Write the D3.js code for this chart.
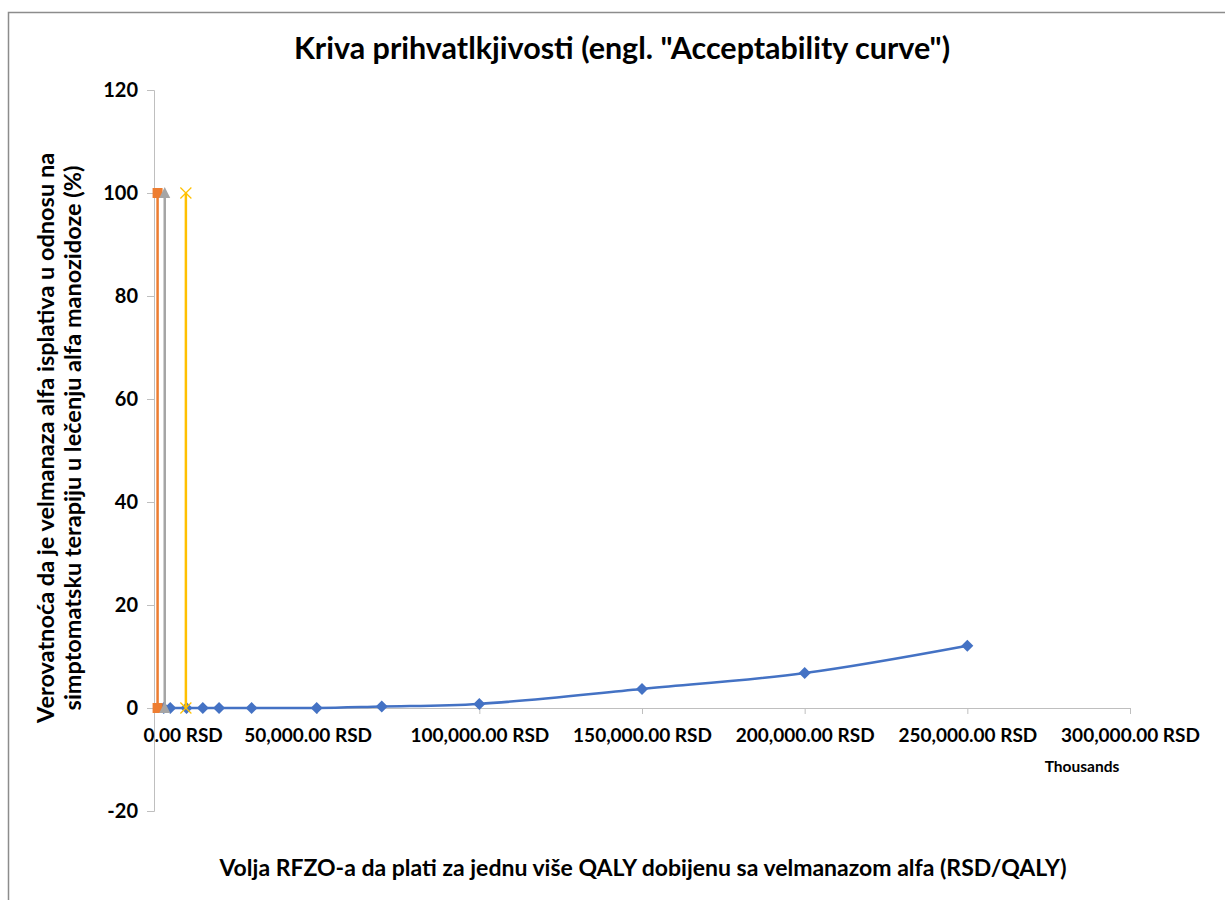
<!DOCTYPE html>
<html>
<head>
<meta charset="utf-8">
<script src="https://cdn.jsdelivr.net/npm/d3@7"></script>
<style>
    body { margin: 0; background: #fff; }
    svg text { font-family: Lato, "Open Sans", sans-serif; font-weight: bold; fill: #000; }
</style>
</head>
<body>
<div id="chart"></div>
<script>
// willingness to pay, in thousands RSD per QALY
const wtp = [3000, 5000, 10000, 15000, 20000, 30000, 50000, 70000, 100000, 150000, 200000, 250000];
const probBlue = [0, 0, 0, 0, 0, 0, 0, 0.3, 0.8, 3.7, 6.8, 12.1];
// the three near-vertical series close to the origin
const orangeX = [1100, 1100];
const orangeY = [0, 100];
const grayX = [3300, 3300];
const grayY = [0, 100];
const yellowX = [9800, 9800];
const yellowY = [0, 100];
const xTicks = [0, 50000, 100000, 150000, 200000, 250000, 300000];
const yTicks = [-20, 0, 20, 40, 60, 80, 100, 120];

const title = 'Kriva prihvatlkjivosti (engl. "Acceptability curve")';
const xTitle = 'Volja RFZO-a da plati za jednu više QALY dobijenu sa velmanazom alfa (RSD/QALY)';
const yTitle = ['Verovatnoća da je velmanaza alfa isplativa u odnosu na',
    'simptomatsku terapiju u lečenju alfa manozidoze (%)'];

let width = 1225,
    height = 900,
    plot = { left: 154, right: 1130, top: 90, bottom: 811 },
    axisColor = '#bfbfbf';

const svg = d3.select('#chart').append('svg')
    .attr('width', width)
    .attr('height', height);

// chart area frame (runs off the page on the right and bottom)
svg.append('rect')
    .attr('x', 8.5).attr('y', 12.5)
    .attr('width', width + 20).attr('height', height + 20)
    .attr('fill', '#fff')
    .attr('stroke', '#8c8c8c')
    .attr('stroke-width', 1.5);

const x = d3.scaleLinear().domain([0, 300000]).range([plot.left, plot.right]);
const y = d3.scaleLinear().domain([-20, 120]).range([plot.bottom, plot.top]);

// y axis
const yAxis = d3.axisLeft(y)
    .tickValues(yTicks)
    .tickSize(7)
    .tickPadding(9)
    .tickFormat(d3.format('d'));
const gy = svg.append('g')
    .attr('transform', 'translate(' + plot.left + ',0)')
    .call(yAxis);
gy.select('.domain').attr('stroke', axisColor);
gy.selectAll('.tick line').attr('stroke', axisColor);
gy.selectAll('.tick text').style('font-size', '20px').text(function(d) {
    return d < 0 ? '-' + Math.abs(d) : d;
});

// x axis sits on y = 0
const xAxis = d3.axisBottom(x)
    .tickValues(xTicks)
    .tickSize(6)
    .tickSizeOuter(0)
    .tickPadding(15)
    .tickFormat(function(d) {
        return d3.format(',.2f')(d) + ' RSD';
    });
const gx = svg.append('g')
    .attr('transform', 'translate(0,' + y(0) + ')')
    .call(xAxis);
gx.select('.domain').attr('stroke', axisColor);
gx.selectAll('.tick line').attr('stroke', axisColor);
gx.selectAll('.tick text').style('font-size', '19px');
// excel pushes the first labels to the right a bit
gx.selectAll('.tick text').filter(function(d) { return d === 0; })
    .attr('text-anchor', 'start').attr('dx', -11);
gx.selectAll('.tick text').filter(function(d) { return d === 50000; })
    .attr('dx', -9);

svg.append('text')
    .attr('x', x(300000) - 48)
    .attr('y', y(0) + 64)
    .attr('text-anchor', 'middle')
    .style('font-size', '15.5px')
    .text('Thousands');

// series
function drawSeries(xs, ys, color, curve) {
    const pts = xs.map(function(d, i) { return [d, ys[i]]; });
    const line = d3.line()
        .x(function(d) { return x(d[0]); })
        .y(function(d) { return y(d[1]); })
        .curve(curve || d3.curveLinear);
    svg.append('path')
        .datum(pts)
        .attr('fill', 'none')
        .attr('stroke', color)
        .attr('stroke-width', 2.5)
        .attr('d', line);
    return pts;
}

function place(d) {
    return 'translate(' + x(d[0]) + ',' + y(d[1]) + ')';
}

const blue = drawSeries(wtp, probBlue, '#4472c4', d3.curveCatmullRom.alpha(0.5));
svg.selectAll('.m-blue')
    .data(blue)
    .enter().append('path')
    .attr('class', 'm-blue')
    .attr('transform', place)
    .attr('d', 'M0,-6L6,0L0,6L-6,0Z')
    .attr('fill', '#4472c4');

const orange = drawSeries(orangeX, orangeY, '#ed7d31');
svg.selectAll('.m-orange')
    .data(orange)
    .enter().append('path')
    .attr('class', 'm-orange')
    .attr('transform', place)
    .attr('d', 'M-5,-5H5V5H-5Z')
    .attr('fill', '#ed7d31');

const gray = drawSeries(grayX, grayY, '#a5a5a5');
svg.selectAll('.m-gray')
    .data(gray)
    .enter().append('path')
    .attr('class', 'm-gray')
    .attr('transform', place)
    .attr('d', 'M0,-6L5.5,5H-5.5Z')
    .attr('fill', '#a5a5a5');

const yellow = drawSeries(yellowX, yellowY, '#ffc000');
svg.selectAll('.m-yellow')
    .data(yellow)
    .enter().append('path')
    .attr('class', 'm-yellow')
    .attr('transform', place)
    .attr('d', 'M-5.5,-5.5L5.5,5.5M-5.5,5.5L5.5,-5.5')
    .attr('fill', 'none')
    .attr('stroke', '#ffc000')
    .attr('stroke-width', 1.2);

// titles
svg.append('text')
    .attr('x', 622)
    .attr('y', 59)
    .attr('text-anchor', 'middle')
    .style('font-size', '30.5px')
    .text(title);

svg.append('text')
    .attr('x', 643)
    .attr('y', 876)
    .attr('text-anchor', 'middle')
    .style('font-size', '23px')
    .text(xTitle);

svg.append('g')
    .attr('transform', 'translate(0,438) rotate(-90)')
    .selectAll('text')
    .data(yTitle)
    .enter().append('text')
    .attr('x', 0)
    .attr('y', function(d, i) { return 54 + i * 27; })
    .attr('text-anchor', 'middle')
    .style('font-size', '23.5px')
    .text(function(d) { return d; });
</script>
</body>
</html>
